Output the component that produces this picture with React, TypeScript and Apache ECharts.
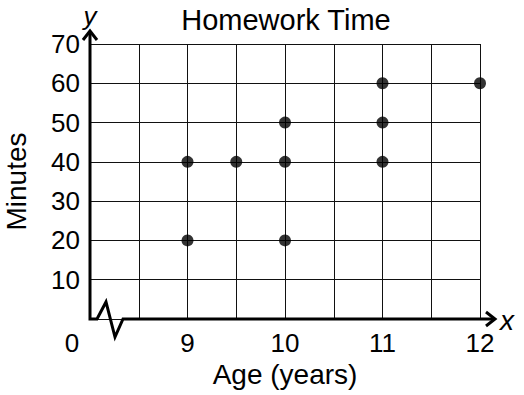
import React, { useEffect, useRef } from "react";
import * as echarts from "echarts";

const titleText = "Homework Time";
const xAxisName = "Age (years)";
const yAxisName = "Minutes";
const ages = [9, 9, 9.5, 10, 10, 10, 11, 11, 11, 12];
const minutes = [40, 20, 40, 50, 40, 20, 60, 50, 40, 60];
const xLabelValues = [9, 10, 11, 12];
const yMin = 0;
const yMax = 70;
const yStep = 10;
const xMin = 8;
const xMax = 12;
const xStep = 0.5;

const FONT = "'Liberation Sans', Arial, sans-serif";
const FS = 26;
const NFS = 28;

export default function App() {
  const ref = useRef<HTMLDivElement>(null);
  useEffect(() => {
    if (!ref.current) return;
    const chart = echarts.init(ref.current, undefined, { renderer: "svg" });
    const option: any = {
      animation: false,
      backgroundColor: "#fff",
      title: {
        text: titleText,
        left: 281,
        top: 0,
        textAlign: "center",
        textStyle: { fontFamily: FONT, fontSize: 29, fontWeight: "normal", color: "#000" },
      },
      grid: { left: 90, right: 44, top: 44, bottom: 76, containLabel: false, outerBoundsMode: "none" },
      xAxis: {
        type: "value",
        min: xMin,
        max: xMax,
        interval: xStep,
        name: xAxisName,
        nameLocation: "middle",
        nameGap: 41,
        nameTextStyle: { fontFamily: FONT, fontSize: NFS, color: "#000" },
        axisLine: { show: false },
        axisTick: { show: false },
        splitLine: { show: true, lineStyle: { color: "#111", width: 1 } },
        axisLabel: {
          margin: 11,
          fontFamily: FONT,
          fontSize: FS,
          color: "#000",
          showMinLabel: true,
          showMaxLabel: true,
          formatter: (v: number) => {
            if (v === xMin) return "{z|0}";
            return xLabelValues.indexOf(v) >= 0 ? String(v) : "";
          },
          rich: {
            z: { fontFamily: FONT, fontSize: FS, color: "#000", padding: [0, 36, 0, 0] },
          },
        },
      },
      yAxis: {
        type: "value",
        min: yMin,
        max: yMax,
        interval: yStep,
        name: yAxisName,
        nameLocation: "middle",
        nameRotate: 90,
        nameGap: 60,
        nameTextStyle: { fontFamily: FONT, fontSize: NFS, color: "#000" },
        axisLine: { show: false },
        axisTick: { show: false },
        splitLine: { show: true, lineStyle: { color: "#111", width: 1 } },
        axisLabel: {
          margin: 10,
          fontFamily: FONT,
          fontSize: FS,
          color: "#000",
          formatter: (v: number) => (v === 0 ? "" : String(v)),
        },
      },
      series: [
        {
          type: "scatter",
          symbol: "circle",
          symbolSize: 12,
          itemStyle: { color: "#000" },
          data: ages.map((a, i) => [a, minutes[i]]),
          z: 5,
        },
      ],
    };
    chart.setOption(option);

    const p = (x: number, y: number) => chart.convertToPixel({ gridIndex: 0 }, [x, y]) as number[];
    const o = p(xMin, yMin);
    const e = p(xMax, yMin);
    const t = p(xMin, yMax);
    const tipX = e[0] + 15;
    const tipY = t[1] - 13;
    const stroke = { stroke: "#000", lineWidth: 3, fill: "none", lineJoin: "miter" };
    chart.setOption({
      graphic: [
        {
          type: "polyline",
          z: 10,
          shape: {
            points: [
              [o[0], tipY + 1],
              [o[0], o[1]],
              [o[0] + 7, o[1]],
              [o[0] + 16, o[1] - 17],
              [o[0] + 25, o[1] + 18],
              [o[0] + 33, o[1]],
              [tipX - 1, o[1]],
            ],
          },
          style: stroke,
        },
        {
          type: "polyline",
          z: 10,
          shape: { points: [[tipX - 9, o[1] - 7], [tipX, o[1]], [tipX - 9, o[1] + 7]] },
          style: stroke,
        },
        {
          type: "polyline",
          z: 10,
          shape: { points: [[o[0] - 7, tipY + 9], [o[0], tipY], [o[0] + 7, tipY + 9]] },
          style: stroke,
        },
        {
          type: "text",
          z: 10,
          x: tipX + 12,
          y: o[1] + 1,
          style: {
            text: "x",
            fontFamily: FONT,
            fontSize: NFS,
            fontStyle: "italic",
            fill: "#000",
            align: "center",
            verticalAlign: "middle",
          },
        },
        {
          type: "text",
          z: 10,
          x: o[0],
          y: tipY - 2,
          style: {
            text: "y",
            fontFamily: FONT,
            fontSize: 26,
            fontStyle: "italic",
            fill: "#000",
            align: "center",
            verticalAlign: "bottom",
          },
        },
      ],
    });
    return () => chart.dispose();
  }, []);
  return (
    <div
      ref={ref}
      style={{ position: "fixed", left: 0, top: 0, width: 524, height: 395 }}
    />
  );
}
